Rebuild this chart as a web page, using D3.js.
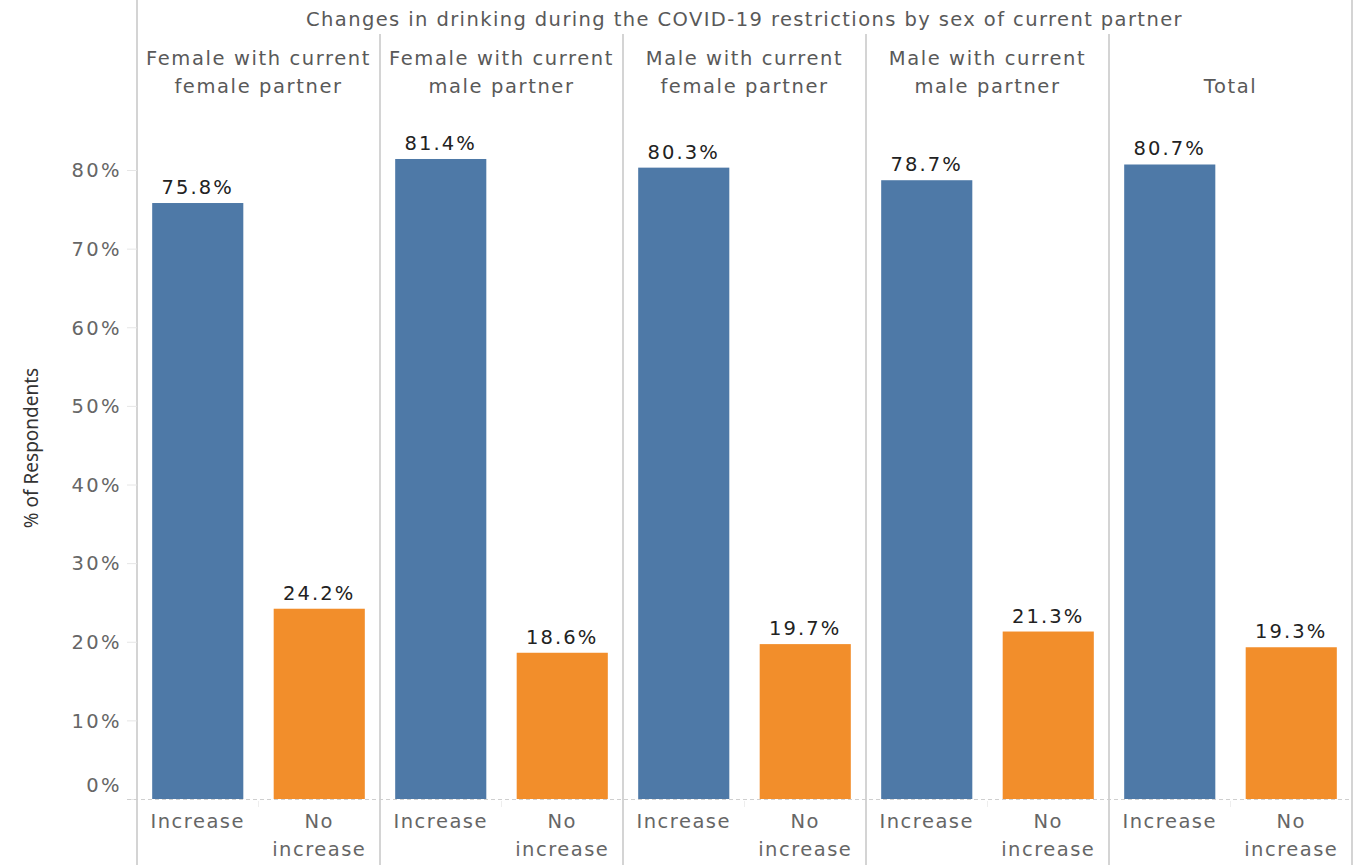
<!DOCTYPE html>
<html><head><meta charset="utf-8">
<script src="https://cdn.jsdelivr.net/npm/d3@7"></script>
<style>body{margin:0;background:#fff}svg{display:block}</style>
</head><body>
<script>
const title = "Changes in drinking during the COVID-19 restrictions by sex of current partner";
const panels = [["Female with current","female partner"],["Female with current","male partner"],["Male with current","female partner"],["Male with current","male partner"],["Total"]];
const categories = ["Increase","No increase"];
const increaseValues = [75.8, 81.4, 80.3, 78.7, 80.7];
const noIncreaseValues = [24.2, 18.6, 19.7, 21.3, 19.3];
const yTicks = [0,10,20,30,40,50,60,70,80];
const colors = ["#4e79a7","#f28e2b"];

const W=1358,H=865;
const svg=d3.select("body").append("svg").attr("width",W).attr("height",H);
const font="'DejaVu Sans', sans-serif";
const left=137,right=1352,y0=799,yTop=170;
const y=d3.scaleLinear().domain([0,80]).range([y0,yTop]);
const px=d3.scaleBand().domain(d3.range(panels.length)).range([left,right]);
const bx=d3.scaleBand().domain(categories).range([0,px.bandwidth()]).paddingInner(0.25).paddingOuter(0.125);

function T(sel,ls){return sel.attr("font-family",font).attr("font-size",19.5).attr("letter-spacing",(ls||1.5)+"px");}

// title
T(svg.append("text"),1.4).attr("x",(left+right)/2).attr("y",26).attr("text-anchor","middle")
 .attr("fill","#595959").text(title);

// vertical lines
svg.append("line").attr("x1",left).attr("x2",left).attr("y1",0).attr("y2",H).attr("stroke","#d4d4d4").attr("stroke-width",2);
svg.append("line").attr("x1",right).attr("x2",right).attr("y1",0).attr("y2",H).attr("stroke","#d4d4d4").attr("stroke-width",2);
d3.range(1,panels.length).forEach(i=>{
  svg.append("line").attr("x1",px(i)).attr("x2",px(i)).attr("y1",34).attr("y2",H).attr("stroke","#d4d4d4").attr("stroke-width",2);
});

// headers
panels.forEach((lines,i)=>{
  const cx=px(i)+px.bandwidth()/2;
  const t=T(svg.append("text"),1.6).attr("text-anchor","middle").attr("fill","#595959");
  if(lines.length===1) t.append("tspan").attr("x",cx).attr("y",93).text(lines[0]);
  else lines.forEach((l,j)=>t.append("tspan").attr("x",cx).attr("y",65+j*28).text(l));
});

// y axis
const ax=svg.append("g").attr("transform",`translate(${left},0)`)
 .call(d3.axisLeft(y).tickValues(yTicks).tickFormat(d=>d+"%").tickSize(10).tickPadding(5));
ax.select(".domain").remove();
ax.selectAll(".tick line").attr("stroke","#e6e6e6");
T(ax.selectAll(".tick text"),2.4).attr("fill","#666")
  .attr("dy",d=>d===0?"-0.4em":"0.35em");

svg.append("text").attr("transform",`translate(38,${448}) rotate(-90)`).attr("text-anchor","middle")
 .attr("font-family","'Noto Sans', sans-serif").attr("font-size",19).attr("fill","#333").text("% of Respondents");

// baseline
svg.append("line").attr("x1",left-10).attr("x2",right).attr("y1",y0+0.5).attr("y2",y0+0.5)
 .attr("stroke","#cfcfcf").attr("stroke-dasharray","4,3");

// bars
const data=[];
panels.forEach((p,i)=>{
  data.push({p:i,c:categories[0],v:increaseValues[i],col:colors[0]});
  data.push({p:i,c:categories[1],v:noIncreaseValues[i],col:colors[1]});
});
const g=svg.append("g");
g.selectAll("rect").data(data).join("rect")
 .attr("x",d=>px(d.p)+bx(d.c)).attr("width",bx.bandwidth())
 .attr("y",d=>y(d.v)).attr("height",d=>y0-y(d.v)).attr("fill",d=>d.col);
T(g.selectAll("text.lbl").data(data).join("text").attr("class","lbl"),2.1)
 .attr("x",d=>px(d.p)+bx(d.c)+bx.bandwidth()/2).attr("y",d=>y(d.v)-9)
 .attr("text-anchor","middle").attr("fill","#222")
 .text(d=>d.v.toFixed(1)+"%");

// x labels and small separators
panels.forEach((p,i)=>{
  categories.forEach(c=>{
    const cx=px(i)+bx(c)+bx.bandwidth()/2;
    const t=T(svg.append("text"),1.5).attr("text-anchor","middle").attr("fill","#666");
    const parts=c==="Increase"?["Increase"]:["No","increase"];
    parts.forEach((s,j)=>t.append("tspan").attr("x",cx).attr("y",828+j*28).text(s));
  });
  const sx=px(i)+px.bandwidth()/2;
  svg.append("line").attr("x1",sx).attr("x2",sx).attr("y1",y0+2).attr("y2",y0+8).attr("stroke","#eee");
});
</script>
</body></html>
